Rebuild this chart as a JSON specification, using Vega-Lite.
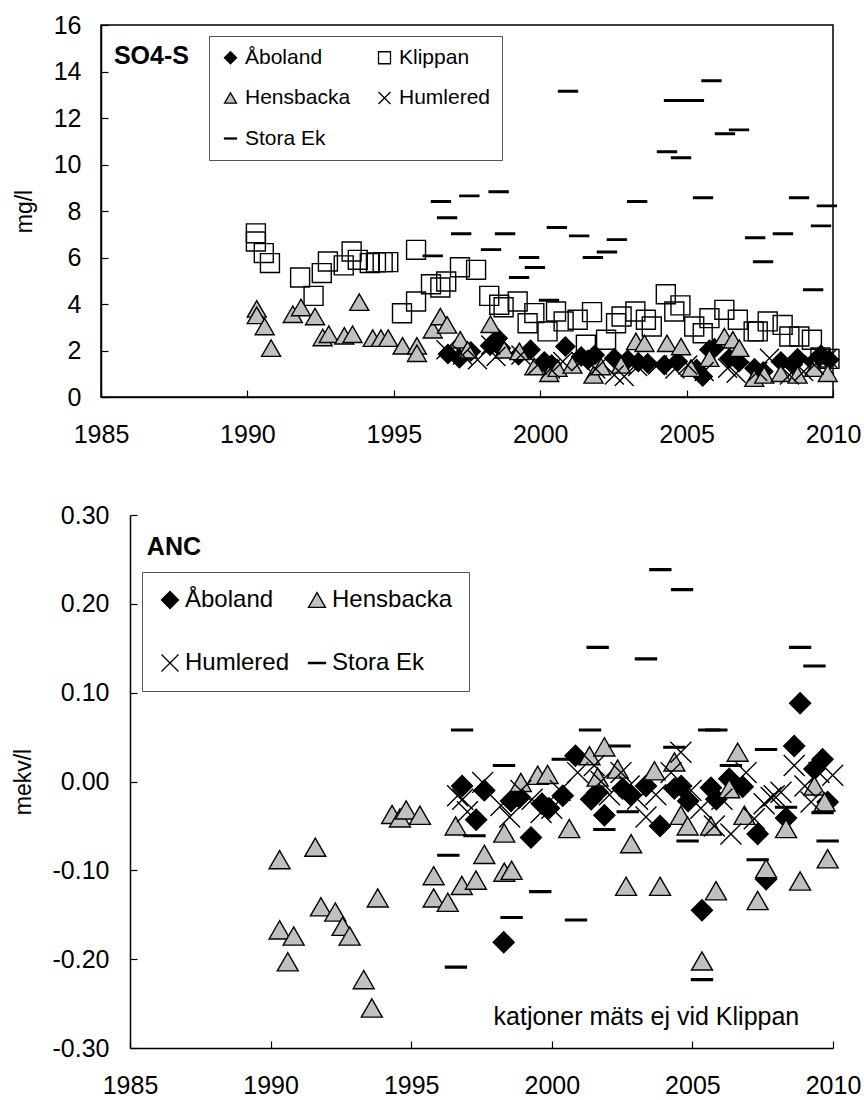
{
  "$schema": "https://vega.github.io/schema/vega-lite/v6.json",
  "padding": {"left": 12, "top": 12, "right": 20, "bottom": 0},
  "config": {
    "font": "Liberation Sans",
    "view": {"stroke": "black", "strokeWidth": 1.5},
    "axis": {
      "grid": false, "domainColor": "black", "domainWidth": 1.5,
      "tickColor": "black", "tickWidth": 1.2, "tickSize": -7,
      "labelFont": "Liberation Sans", "labelFontSize": 25, "labelColor": "black",
      "titleFont": "Liberation Sans", "titleFontSize": 23, "titleFontWeight": "normal", "titleColor": "black",
      "labelFlush": false, "labelOverlap": false
    },
    "legend": {
      "labelFont": "Liberation Sans", "labelColor": "black",
      "strokeColor": "#555555", "fillColor": "white", "symbolStrokeWidth": 1.3
    }
  },
  "resolve": {
    "scale": {"shape": "independent", "fill": "independent", "stroke": "independent"},
    "legend": {"shape": "independent", "fill": "independent", "stroke": "independent"}
  },
  "concat": [
    {
      "width": 732, "height": 372,
      "layer": [
        {
          "data": {"name": "so4"},
          "mark": {"type": "point", "filled": true, "opacity": 1, "strokeWidth": 1.4, "size": 360},
          "encoding": {
            "x": {"field": "year", "type": "quantitative", "scale": {"domain": [1985, 2010], "nice": false, "zero": false},
                  "axis": {"values": [1985, 1990, 1995, 2000, 2005, 2010], "format": "d", "title": null, "labelPadding": 32}},
            "y": {"field": "v", "type": "quantitative", "scale": {"domain": [0, 16], "nice": false},
                  "axis": {"values": [0, 2, 4, 6, 8, 10, 12, 14, 16], "title": "mg/l", "labelPadding": 27, "titlePadding": 17}},
            "shape": {"field": "site", "type": "nominal",
              "scale": {"domain": ["Åboland", "Hensbacka", "Stora Ek", "Klippan", "Humlered"],
                        "range": ["diamond", "triangle-up", "M-1,-0.08L1,-0.08L1,0.08L-1,0.08Z", "square", "M-1,-1L1,1M-1,1L1,-1"]},
              "legend": {"orient": "none", "legendX": 108, "legendY": 11, "title": null, "columns": 2,
                         "padding": 11, "symbolSize": 144, "labelFontSize": 21, "rowPadding": 18.5,
                         "columnPadding": 23, "labelOffset": 4}},
            "fill": {"field": "site", "type": "nominal",
              "scale": {"domain": ["Åboland", "Hensbacka", "Stora Ek", "Klippan", "Humlered"],
                        "range": ["black", "#c0c0c0", "black", "transparent", "transparent"]}},
            "stroke": {"field": "site", "type": "nominal",
              "scale": {"domain": ["Åboland", "Hensbacka", "Stora Ek", "Klippan", "Humlered"],
                        "range": ["black", "black", "black", "black", "black"]}}
          }
        },
        {
          "data": {"values": [{"year": 1985.44, "v": 14.65, "label": "SO4-S"}]},
          "mark": {"type": "text", "align": "left", "baseline": "middle", "fontSize": 25, "fontWeight": "bold", "color": "black"},
          "encoding": {
            "x": {"field": "year", "type": "quantitative"},
            "y": {"field": "v", "type": "quantitative"},
            "text": {"field": "label"}
          }
        }
      ]
    },
    {
      "width": 732, "height": 533,
      "view": {"stroke": null},
      "layer": [
        {
          "mark": {"type": "rule", "strokeDash": [34, 14], "color": "#808080", "strokeWidth": 1.2},
          "encoding": {"x": {"datum": 1985, "type": "quantitative"}, "x2": {"datum": 2010}, "y": {"datum": 0, "type": "quantitative"}}
        },
        {
          "mark": {"type": "rule", "color": "black", "strokeWidth": 1.5},
          "encoding": {"x": {"datum": 1985, "type": "quantitative"}, "x2": {"datum": 2010}, "y": {"datum": 0.3, "type": "quantitative"}}
        },
        {
          "mark": {"type": "rule", "color": "black", "strokeWidth": 1.5},
          "encoding": {"x": {"datum": 2010, "type": "quantitative"}, "y": {"datum": -0.3, "type": "quantitative"}, "y2": {"datum": 0.3}}
        },
        {
          "data": {"name": "anc"},
          "mark": {"type": "point", "filled": true, "opacity": 1, "strokeWidth": 1.4, "size": 440},
          "encoding": {
            "x": {"field": "year", "type": "quantitative", "scale": {"domain": [1985, 2010], "range": [29, 732], "nice": false, "zero": false},
                  "axis": {"values": [1985, 1990, 1995, 2000, 2005, 2010], "format": "d", "title": null, "labelPadding": 32}},
            "y": {"field": "v", "type": "quantitative", "scale": {"domain": [-0.3, 0.3], "nice": false, "zero": false},
                  "axis": {"values": [-0.3, -0.2, -0.1, 0, 0.1, 0.2, 0.3], "title": "mekv/l", "labelPadding": 28, "titlePadding": 17,
                           "offset": -29,
                           "labelExpr": "replace(format(datum.value, '.2f'), '\u2212', '-')"}},
            "shape": {"field": "site", "type": "nominal",
              "scale": {"domain": ["Åboland", "Humlered", "Hensbacka", "Stora Ek"],
                        "range": ["diamond", "M-1,-1L1,1M-1,1L1,-1", "triangle-up", "M-1,-0.08L1,-0.08L1,0.08L-1,0.08Z"]},
              "legend": {"orient": "none", "legendX": 41, "legendY": 57, "title": null, "columns": 2,
                         "padding": 16, "symbolSize": 289, "labelFontSize": 24, "rowPadding": 39,
                         "columnPadding": 15, "labelOffset": 3}},
            "fill": {"field": "site", "type": "nominal",
              "scale": {"domain": ["Åboland", "Humlered", "Hensbacka", "Stora Ek"],
                        "range": ["black", "transparent", "#c0c0c0", "black"]}},
            "stroke": {"field": "site", "type": "nominal",
              "scale": {"domain": ["Åboland", "Humlered", "Hensbacka", "Stora Ek"],
                        "range": ["black", "black", "black", "black"]}}
          }
        },
        {
          "data": {"values": [{"year": 1985.6, "v": 0.2635, "label": "ANC"}]},
          "mark": {"type": "text", "align": "left", "baseline": "middle", "fontSize": 25, "fontWeight": "bold", "color": "black"},
          "encoding": {
            "x": {"field": "year", "type": "quantitative"},
            "y": {"field": "v", "type": "quantitative"},
            "text": {"field": "label"}
          }
        },
        {
          "data": {"values": [{"year": 2008.8, "v": -0.2646, "label": "katjoner mäts ej vid Klippan"}]},
          "mark": {"type": "text", "align": "right", "baseline": "middle", "fontSize": 25, "color": "black"},
          "encoding": {
            "x": {"field": "year", "type": "quantitative"},
            "y": {"field": "v", "type": "quantitative"},
            "text": {"field": "label"}
          }
        }
      ]
    }
  ],
  "columns": 1,
  "spacing": 55,
  "datasets": {
    "so4": [
      {"site": "Åboland", "year": 1996.85, "v": 1.85}, {"site": "Åboland", "year": 1997.24, "v": 1.67},
      {"site": "Åboland", "year": 1997.63, "v": 1.96}, {"site": "Åboland", "year": 1998.29, "v": 2.2},
      {"site": "Åboland", "year": 1998.55, "v": 2.53}, {"site": "Åboland", "year": 1998.66, "v": 2.1},
      {"site": "Åboland", "year": 1999.26, "v": 1.8}, {"site": "Åboland", "year": 1999.67, "v": 2.03},
      {"site": "Åboland", "year": 2000.14, "v": 1.53}, {"site": "Åboland", "year": 2000.39, "v": 1.4},
      {"site": "Åboland", "year": 2000.86, "v": 2.17}, {"site": "Åboland", "year": 2001.4, "v": 1.74},
      {"site": "Åboland", "year": 2001.63, "v": 1.6}, {"site": "Åboland", "year": 2001.86, "v": 1.81},
      {"site": "Åboland", "year": 2002.53, "v": 1.67}, {"site": "Åboland", "year": 2002.99, "v": 1.6},
      {"site": "Åboland", "year": 2003.35, "v": 1.5}, {"site": "Åboland", "year": 2003.67, "v": 1.45},
      {"site": "Åboland", "year": 2004.24, "v": 1.38}, {"site": "Åboland", "year": 2004.7, "v": 1.53},
      {"site": "Åboland", "year": 2005.34, "v": 1.2}, {"site": "Åboland", "year": 2005.55, "v": 0.88},
      {"site": "Åboland", "year": 2005.78, "v": 2.03}, {"site": "Åboland", "year": 2005.95, "v": 2.1},
      {"site": "Åboland", "year": 2006.46, "v": 1.67}, {"site": "Åboland", "year": 2006.79, "v": 1.5},
      {"site": "Åboland", "year": 2007.32, "v": 1.24}, {"site": "Åboland", "year": 2007.62, "v": 1.1},
      {"site": "Åboland", "year": 2008.22, "v": 1.53}, {"site": "Åboland", "year": 2008.62, "v": 1.4},
      {"site": "Åboland", "year": 2008.79, "v": 1.67}, {"site": "Åboland", "year": 2009.34, "v": 1.5},
      {"site": "Åboland", "year": 2009.59, "v": 1.82}, {"site": "Åboland", "year": 2009.87, "v": 1.6},

      {"site": "Klippan", "year": 1990.29, "v": 7.04}, {"site": "Klippan", "year": 1990.29, "v": 6.69},
      {"site": "Klippan", "year": 1990.56, "v": 6.19}, {"site": "Klippan", "year": 1990.77, "v": 5.76},
      {"site": "Klippan", "year": 1991.8, "v": 5.14}, {"site": "Klippan", "year": 1992.26, "v": 4.35},
      {"site": "Klippan", "year": 1992.54, "v": 5.33}, {"site": "Klippan", "year": 1992.75, "v": 5.83},
      {"site": "Klippan", "year": 1993.29, "v": 5.66}, {"site": "Klippan", "year": 1993.56, "v": 6.26},
      {"site": "Klippan", "year": 1993.77, "v": 5.9}, {"site": "Klippan", "year": 1994.18, "v": 5.76},
      {"site": "Klippan", "year": 1994.39, "v": 5.79}, {"site": "Klippan", "year": 1994.62, "v": 5.8},
      {"site": "Klippan", "year": 1994.81, "v": 5.8}, {"site": "Klippan", "year": 1995.28, "v": 3.6},
      {"site": "Klippan", "year": 1995.76, "v": 6.33}, {"site": "Klippan", "year": 1995.76, "v": 4.11},
      {"site": "Klippan", "year": 1996.27, "v": 4.85}, {"site": "Klippan", "year": 1996.59, "v": 4.71},
      {"site": "Klippan", "year": 1996.79, "v": 4.97}, {"site": "Klippan", "year": 1997.26, "v": 5.58},
      {"site": "Klippan", "year": 1997.81, "v": 5.47}, {"site": "Klippan", "year": 1998.26, "v": 4.35},
      {"site": "Klippan", "year": 1998.6, "v": 3.97}, {"site": "Klippan", "year": 1998.75, "v": 3.86},
      {"site": "Klippan", "year": 1999.23, "v": 4.11}, {"site": "Klippan", "year": 1999.57, "v": 3.17},
      {"site": "Klippan", "year": 1999.8, "v": 3.61}, {"site": "Klippan", "year": 2000.25, "v": 2.82},
      {"site": "Klippan", "year": 2000.54, "v": 3.68}, {"site": "Klippan", "year": 2000.8, "v": 3.25},
      {"site": "Klippan", "year": 2001.28, "v": 3.32}, {"site": "Klippan", "year": 2001.56, "v": 2.25},
      {"site": "Klippan", "year": 2001.77, "v": 3.65}, {"site": "Klippan", "year": 2002.25, "v": 2.46},
      {"site": "Klippan", "year": 2002.59, "v": 3.17}, {"site": "Klippan", "year": 2002.78, "v": 3.46},
      {"site": "Klippan", "year": 2003.25, "v": 3.68}, {"site": "Klippan", "year": 2003.61, "v": 3.32},
      {"site": "Klippan", "year": 2003.81, "v": 3.03}, {"site": "Klippan", "year": 2004.29, "v": 4.42},
      {"site": "Klippan", "year": 2004.58, "v": 3.68}, {"site": "Klippan", "year": 2004.79, "v": 3.94},
      {"site": "Klippan", "year": 2005.26, "v": 3.03}, {"site": "Klippan", "year": 2005.55, "v": 2.74},
      {"site": "Klippan", "year": 2005.78, "v": 3.39}, {"site": "Klippan", "year": 2006.29, "v": 3.75},
      {"site": "Klippan", "year": 2006.75, "v": 3.32}, {"site": "Klippan", "year": 2007.29, "v": 2.82},
      {"site": "Klippan", "year": 2007.43, "v": 2.82}, {"site": "Klippan", "year": 2007.77, "v": 3.25},
      {"site": "Klippan", "year": 2008.28, "v": 3.1}, {"site": "Klippan", "year": 2008.51, "v": 2.6},
      {"site": "Klippan", "year": 2008.85, "v": 2.6}, {"site": "Klippan", "year": 2009.28, "v": 2.46},
      {"site": "Klippan", "year": 2009.57, "v": 1.7}, {"site": "Klippan", "year": 2009.88, "v": 1.64},

      {"site": "Hensbacka", "year": 1990.32, "v": 3.79}, {"site": "Hensbacka", "year": 1990.32, "v": 3.51},
      {"site": "Hensbacka", "year": 1990.59, "v": 3.03}, {"site": "Hensbacka", "year": 1990.81, "v": 2.1},
      {"site": "Hensbacka", "year": 1991.55, "v": 3.56}, {"site": "Hensbacka", "year": 1991.83, "v": 3.85},
      {"site": "Hensbacka", "year": 1992.31, "v": 3.46}, {"site": "Hensbacka", "year": 1992.57, "v": 2.56},
      {"site": "Hensbacka", "year": 1992.78, "v": 2.7}, {"site": "Hensbacka", "year": 1993.31, "v": 2.63},
      {"site": "Hensbacka", "year": 1993.59, "v": 2.7}, {"site": "Hensbacka", "year": 1993.82, "v": 4.08},
      {"site": "Hensbacka", "year": 1994.28, "v": 2.53}, {"site": "Hensbacka", "year": 1994.56, "v": 2.53},
      {"site": "Hensbacka", "year": 1994.81, "v": 2.53}, {"site": "Hensbacka", "year": 1995.3, "v": 2.2},
      {"site": "Hensbacka", "year": 1995.79, "v": 2.2}, {"site": "Hensbacka", "year": 1995.79, "v": 1.88},
      {"site": "Hensbacka", "year": 1996.33, "v": 2.89}, {"site": "Hensbacka", "year": 1996.59, "v": 3.46},
      {"site": "Hensbacka", "year": 1996.82, "v": 3.1}, {"site": "Hensbacka", "year": 1997.27, "v": 2.46},
      {"site": "Hensbacka", "year": 1997.52, "v": 2.03}, {"site": "Hensbacka", "year": 1998.3, "v": 3.13},
      {"site": "Hensbacka", "year": 1998.77, "v": 2.03}, {"site": "Hensbacka", "year": 1999.29, "v": 1.96},
      {"site": "Hensbacka", "year": 1999.8, "v": 1.31}, {"site": "Hensbacka", "year": 2000.31, "v": 1.02},
      {"site": "Hensbacka", "year": 2000.59, "v": 1.24}, {"site": "Hensbacka", "year": 2001.1, "v": 1.38},
      {"site": "Hensbacka", "year": 2001.82, "v": 0.95}, {"site": "Hensbacka", "year": 2002.08, "v": 1.31},
      {"site": "Hensbacka", "year": 2002.76, "v": 1.38}, {"site": "Hensbacka", "year": 2003.27, "v": 2.39},
      {"site": "Hensbacka", "year": 2003.56, "v": 2.31}, {"site": "Hensbacka", "year": 2004.33, "v": 2.31},
      {"site": "Hensbacka", "year": 2004.81, "v": 2.17}, {"site": "Hensbacka", "year": 2005.15, "v": 1.24},
      {"site": "Hensbacka", "year": 2005.78, "v": 1.67}, {"site": "Hensbacka", "year": 2006.29, "v": 2.6},
      {"site": "Hensbacka", "year": 2006.58, "v": 2.46}, {"site": "Hensbacka", "year": 2006.8, "v": 2.1},
      {"site": "Hensbacka", "year": 2007.31, "v": 0.81}, {"site": "Hensbacka", "year": 2007.65, "v": 0.95},
      {"site": "Hensbacka", "year": 2008.22, "v": 1.02}, {"site": "Hensbacka", "year": 2008.79, "v": 0.95},
      {"site": "Hensbacka", "year": 2009.36, "v": 1.24}, {"site": "Hensbacka", "year": 2009.82, "v": 1.02},

      {"site": "Humlered", "year": 1996.78, "v": 2.03}, {"site": "Humlered", "year": 1997.35, "v": 1.81},
      {"site": "Humlered", "year": 1997.86, "v": 1.6}, {"site": "Humlered", "year": 1998.31, "v": 2.24},
      {"site": "Humlered", "year": 1998.49, "v": 1.74}, {"site": "Humlered", "year": 1999.34, "v": 1.81},
      {"site": "Humlered", "year": 1999.91, "v": 1.38}, {"site": "Humlered", "year": 2000.35, "v": 1.2},
      {"site": "Humlered", "year": 2000.77, "v": 1.53}, {"site": "Humlered", "year": 2001.39, "v": 1.53},
      {"site": "Humlered", "year": 2001.9, "v": 1.2}, {"site": "Humlered", "year": 2002.53, "v": 0.95},
      {"site": "Humlered", "year": 2002.87, "v": 0.88}, {"site": "Humlered", "year": 2003.33, "v": 1.31},
      {"site": "Humlered", "year": 2004.01, "v": 1.38}, {"site": "Humlered", "year": 2004.6, "v": 1.2},
      {"site": "Humlered", "year": 2005.04, "v": 1.38}, {"site": "Humlered", "year": 2005.6, "v": 1.1},
      {"site": "Humlered", "year": 2006.4, "v": 1.24}, {"site": "Humlered", "year": 2006.69, "v": 1.02},
      {"site": "Humlered", "year": 2007.43, "v": 1.1}, {"site": "Humlered", "year": 2007.83, "v": 1.67},
      {"site": "Humlered", "year": 2008.51, "v": 0.95}, {"site": "Humlered", "year": 2009.0, "v": 1.1},
      {"site": "Humlered", "year": 2009.36, "v": 1.38}, {"site": "Humlered", "year": 2009.82, "v": 1.67},

      {"site": "Stora Ek", "year": 1996.33, "v": 6.07}, {"site": "Stora Ek", "year": 1996.61, "v": 8.41},
      {"site": "Stora Ek", "year": 1996.82, "v": 7.71}, {"site": "Stora Ek", "year": 1997.3, "v": 7.02},
      {"site": "Stora Ek", "year": 1997.58, "v": 8.65}, {"site": "Stora Ek", "year": 1998.32, "v": 6.34},
      {"site": "Stora Ek", "year": 1998.58, "v": 8.83}, {"site": "Stora Ek", "year": 1998.8, "v": 7.02},
      {"site": "Stora Ek", "year": 1999.28, "v": 5.14}, {"site": "Stora Ek", "year": 1999.62, "v": 6.0},
      {"site": "Stora Ek", "year": 1999.82, "v": 5.57}, {"site": "Stora Ek", "year": 2000.3, "v": 4.16},
      {"site": "Stora Ek", "year": 2000.57, "v": 7.29}, {"site": "Stora Ek", "year": 2000.95, "v": 13.15},
      {"site": "Stora Ek", "year": 2001.33, "v": 6.93}, {"site": "Stora Ek", "year": 2001.8, "v": 6.0},
      {"site": "Stora Ek", "year": 2002.28, "v": 6.24}, {"site": "Stora Ek", "year": 2002.62, "v": 6.77},
      {"site": "Stora Ek", "year": 2003.31, "v": 8.41}, {"site": "Stora Ek", "year": 2004.33, "v": 10.55},
      {"site": "Stora Ek", "year": 2004.57, "v": 12.75}, {"site": "Stora Ek", "year": 2004.81, "v": 10.29},
      {"site": "Stora Ek", "year": 2005.25, "v": 12.75}, {"site": "Stora Ek", "year": 2005.56, "v": 8.57},
      {"site": "Stora Ek", "year": 2005.85, "v": 13.6}, {"site": "Stora Ek", "year": 2006.31, "v": 11.32},
      {"site": "Stora Ek", "year": 2006.79, "v": 11.49}, {"site": "Stora Ek", "year": 2007.34, "v": 6.85},
      {"site": "Stora Ek", "year": 2007.61, "v": 5.82}, {"site": "Stora Ek", "year": 2008.29, "v": 7.02},
      {"site": "Stora Ek", "year": 2008.84, "v": 8.57}, {"site": "Stora Ek", "year": 2009.32, "v": 4.61},
      {"site": "Stora Ek", "year": 2009.59, "v": 7.36}, {"site": "Stora Ek", "year": 2009.79, "v": 8.22}
    ],
    "anc": [
      {"site": "Åboland", "year": 1996.81, "v": -0.005}, {"site": "Åboland", "year": 1997.31, "v": -0.043},
      {"site": "Åboland", "year": 1997.6, "v": -0.01}, {"site": "Åboland", "year": 1998.29, "v": -0.181},
      {"site": "Åboland", "year": 1998.55, "v": -0.022}, {"site": "Åboland", "year": 1998.85, "v": -0.018},
      {"site": "Åboland", "year": 1999.26, "v": -0.063}, {"site": "Åboland", "year": 1999.65, "v": -0.025},
      {"site": "Åboland", "year": 1999.9, "v": -0.03}, {"site": "Åboland", "year": 2000.39, "v": -0.016},
      {"site": "Åboland", "year": 2000.84, "v": 0.029}, {"site": "Åboland", "year": 2001.4, "v": -0.02},
      {"site": "Åboland", "year": 2001.63, "v": -0.012}, {"site": "Åboland", "year": 2001.87, "v": -0.038},
      {"site": "Åboland", "year": 2002.52, "v": -0.008}, {"site": "Åboland", "year": 2002.8, "v": -0.015},
      {"site": "Åboland", "year": 2003.35, "v": -0.005}, {"site": "Åboland", "year": 2003.85, "v": -0.05},
      {"site": "Åboland", "year": 2004.36, "v": -0.008}, {"site": "Åboland", "year": 2004.6, "v": -0.005},
      {"site": "Åboland", "year": 2004.85, "v": -0.022}, {"site": "Åboland", "year": 2005.34, "v": -0.145},
      {"site": "Åboland", "year": 2005.66, "v": -0.007}, {"site": "Åboland", "year": 2005.85, "v": -0.02},
      {"site": "Åboland", "year": 2006.31, "v": 0.003}, {"site": "Åboland", "year": 2006.79, "v": -0.006},
      {"site": "Åboland", "year": 2007.32, "v": -0.059}, {"site": "Åboland", "year": 2007.62, "v": -0.11},
      {"site": "Åboland", "year": 2008.33, "v": -0.041}, {"site": "Åboland", "year": 2008.62, "v": 0.04},
      {"site": "Åboland", "year": 2008.83, "v": 0.088}, {"site": "Åboland", "year": 2009.34, "v": 0.014},
      {"site": "Åboland", "year": 2009.63, "v": 0.025}, {"site": "Åboland", "year": 2009.81, "v": -0.023},

      {"site": "Hensbacka", "year": 1990.32, "v": -0.088}, {"site": "Hensbacka", "year": 1990.32, "v": -0.167},
      {"site": "Hensbacka", "year": 1990.61, "v": -0.203}, {"site": "Hensbacka", "year": 1990.82, "v": -0.174},
      {"site": "Hensbacka", "year": 1991.59, "v": -0.074}, {"site": "Hensbacka", "year": 1991.79, "v": -0.141},
      {"site": "Hensbacka", "year": 1992.3, "v": -0.147}, {"site": "Hensbacka", "year": 1992.56, "v": -0.163},
      {"site": "Hensbacka", "year": 1992.81, "v": -0.174}, {"site": "Hensbacka", "year": 1993.31, "v": -0.223},
      {"site": "Hensbacka", "year": 1993.6, "v": -0.255}, {"site": "Hensbacka", "year": 1993.81, "v": -0.131},
      {"site": "Hensbacka", "year": 1994.32, "v": -0.037}, {"site": "Hensbacka", "year": 1994.6, "v": -0.041},
      {"site": "Hensbacka", "year": 1994.82, "v": -0.032}, {"site": "Hensbacka", "year": 1995.31, "v": -0.038},
      {"site": "Hensbacka", "year": 1995.8, "v": -0.106}, {"site": "Hensbacka", "year": 1995.8, "v": -0.131},
      {"site": "Hensbacka", "year": 1996.3, "v": -0.136}, {"site": "Hensbacka", "year": 1996.58, "v": -0.05},
      {"site": "Hensbacka", "year": 1996.8, "v": -0.117}, {"site": "Hensbacka", "year": 1997.3, "v": -0.111},
      {"site": "Hensbacka", "year": 1997.6, "v": -0.082}, {"site": "Hensbacka", "year": 1998.31, "v": -0.102},
      {"site": "Hensbacka", "year": 1998.57, "v": -0.1}, {"site": "Hensbacka", "year": 1998.31, "v": -0.058},
      {"site": "Hensbacka", "year": 1998.9, "v": -0.001}, {"site": "Hensbacka", "year": 1999.5, "v": 0.007},
      {"site": "Hensbacka", "year": 1999.85, "v": 0.008}, {"site": "Hensbacka", "year": 2000.62, "v": -0.053},
      {"site": "Hensbacka", "year": 2001.34, "v": 0.029}, {"site": "Hensbacka", "year": 2001.63, "v": 0.005},
      {"site": "Hensbacka", "year": 2001.87, "v": 0.039}, {"site": "Hensbacka", "year": 2002.34, "v": 0.014},
      {"site": "Hensbacka", "year": 2002.64, "v": -0.118}, {"site": "Hensbacka", "year": 2002.82, "v": -0.07},
      {"site": "Hensbacka", "year": 2003.65, "v": 0.012}, {"site": "Hensbacka", "year": 2003.85, "v": -0.118},
      {"site": "Hensbacka", "year": 2004.36, "v": 0.022}, {"site": "Hensbacka", "year": 2004.59, "v": -0.038},
      {"site": "Hensbacka", "year": 2004.83, "v": -0.05}, {"site": "Hensbacka", "year": 2005.34, "v": -0.202},
      {"site": "Hensbacka", "year": 2005.66, "v": -0.05}, {"site": "Hensbacka", "year": 2005.84, "v": -0.123},
      {"site": "Hensbacka", "year": 2006.31, "v": -0.008}, {"site": "Hensbacka", "year": 2006.61, "v": 0.033},
      {"site": "Hensbacka", "year": 2006.85, "v": -0.038}, {"site": "Hensbacka", "year": 2007.32, "v": -0.134},
      {"site": "Hensbacka", "year": 2007.62, "v": -0.098}, {"site": "Hensbacka", "year": 2008.33, "v": -0.053},
      {"site": "Hensbacka", "year": 2008.83, "v": -0.112}, {"site": "Hensbacka", "year": 2009.34, "v": -0.005},
      {"site": "Hensbacka", "year": 2009.7, "v": -0.023}, {"site": "Hensbacka", "year": 2009.81, "v": -0.087},

      {"site": "Humlered", "year": 1996.65, "v": -0.016}, {"site": "Humlered", "year": 1996.83, "v": -0.02},
      {"site": "Humlered", "year": 1997.0, "v": -0.034}, {"site": "Humlered", "year": 1997.54, "v": -0.001},
      {"site": "Humlered", "year": 1998.19, "v": -0.027}, {"site": "Humlered", "year": 1998.5, "v": -0.04},
      {"site": "Humlered", "year": 1998.9, "v": -0.01}, {"site": "Humlered", "year": 1999.3, "v": -0.02},
      {"site": "Humlered", "year": 1999.62, "v": -0.035}, {"site": "Humlered", "year": 2000.0, "v": -0.03},
      {"site": "Humlered", "year": 2000.3, "v": -0.01}, {"site": "Humlered", "year": 2000.92, "v": 0.01},
      {"site": "Humlered", "year": 2001.51, "v": 0.018}, {"site": "Humlered", "year": 2001.75, "v": 0.0},
      {"site": "Humlered", "year": 2002.05, "v": -0.015}, {"site": "Humlered", "year": 2002.46, "v": 0.01},
      {"site": "Humlered", "year": 2002.75, "v": -0.005}, {"site": "Humlered", "year": 2003.05, "v": -0.02},
      {"site": "Humlered", "year": 2003.35, "v": -0.04}, {"site": "Humlered", "year": 2003.7, "v": -0.015},
      {"site": "Humlered", "year": 2004.24, "v": 0.01}, {"site": "Humlered", "year": 2004.59, "v": 0.033},
      {"site": "Humlered", "year": 2004.95, "v": -0.01}, {"site": "Humlered", "year": 2005.3, "v": -0.03},
      {"site": "Humlered", "year": 2005.78, "v": -0.05}, {"site": "Humlered", "year": 2006.05, "v": -0.02},
      {"site": "Humlered", "year": 2006.37, "v": -0.059}, {"site": "Humlered", "year": 2006.91, "v": 0.01},
      {"site": "Humlered", "year": 2007.2, "v": -0.042}, {"site": "Humlered", "year": 2007.55, "v": -0.025},
      {"site": "Humlered", "year": 2007.8, "v": -0.018}, {"site": "Humlered", "year": 2007.91, "v": -0.016},
      {"site": "Humlered", "year": 2008.15, "v": -0.012}, {"site": "Humlered", "year": 2008.62, "v": 0.018},
      {"site": "Humlered", "year": 2009.0, "v": -0.005}, {"site": "Humlered", "year": 2009.22, "v": -0.023},
      {"site": "Humlered", "year": 2009.5, "v": 0.01}, {"site": "Humlered", "year": 2009.99, "v": 0.007},

      {"site": "Stora Ek", "year": 1996.32, "v": -0.083}, {"site": "Stora Ek", "year": 1996.59, "v": -0.209},
      {"site": "Stora Ek", "year": 1996.81, "v": 0.058}, {"site": "Stora Ek", "year": 1997.25, "v": -0.061},
      {"site": "Stora Ek", "year": 1998.3, "v": 0.018}, {"site": "Stora Ek", "year": 1998.57, "v": -0.153},
      {"site": "Stora Ek", "year": 1999.59, "v": -0.124}, {"site": "Stora Ek", "year": 2000.39, "v": 0.025},
      {"site": "Stora Ek", "year": 2000.86, "v": -0.156}, {"site": "Stora Ek", "year": 2001.36, "v": 0.058},
      {"site": "Stora Ek", "year": 2001.63, "v": 0.151}, {"site": "Stora Ek", "year": 2001.87, "v": -0.054},
      {"site": "Stora Ek", "year": 2002.41, "v": 0.04}, {"site": "Stora Ek", "year": 2002.7, "v": -0.034},
      {"site": "Stora Ek", "year": 2003.35, "v": 0.138}, {"site": "Stora Ek", "year": 2003.86, "v": 0.2385},
      {"site": "Stora Ek", "year": 2004.36, "v": 0.0385}, {"site": "Stora Ek", "year": 2004.63, "v": 0.216},
      {"site": "Stora Ek", "year": 2004.83, "v": -0.067}, {"site": "Stora Ek", "year": 2005.34, "v": -0.223},
      {"site": "Stora Ek", "year": 2005.6, "v": 0.058}, {"site": "Stora Ek", "year": 2005.85, "v": 0.058},
      {"site": "Stora Ek", "year": 2006.37, "v": 0.018}, {"site": "Stora Ek", "year": 2007.32, "v": -0.088},
      {"site": "Stora Ek", "year": 2007.62, "v": 0.036}, {"site": "Stora Ek", "year": 2008.33, "v": -0.029},
      {"site": "Stora Ek", "year": 2008.83, "v": 0.151}, {"site": "Stora Ek", "year": 2009.34, "v": 0.13},
      {"site": "Stora Ek", "year": 2009.63, "v": -0.035}, {"site": "Stora Ek", "year": 2009.81, "v": -0.067}
    ]
  }
}
